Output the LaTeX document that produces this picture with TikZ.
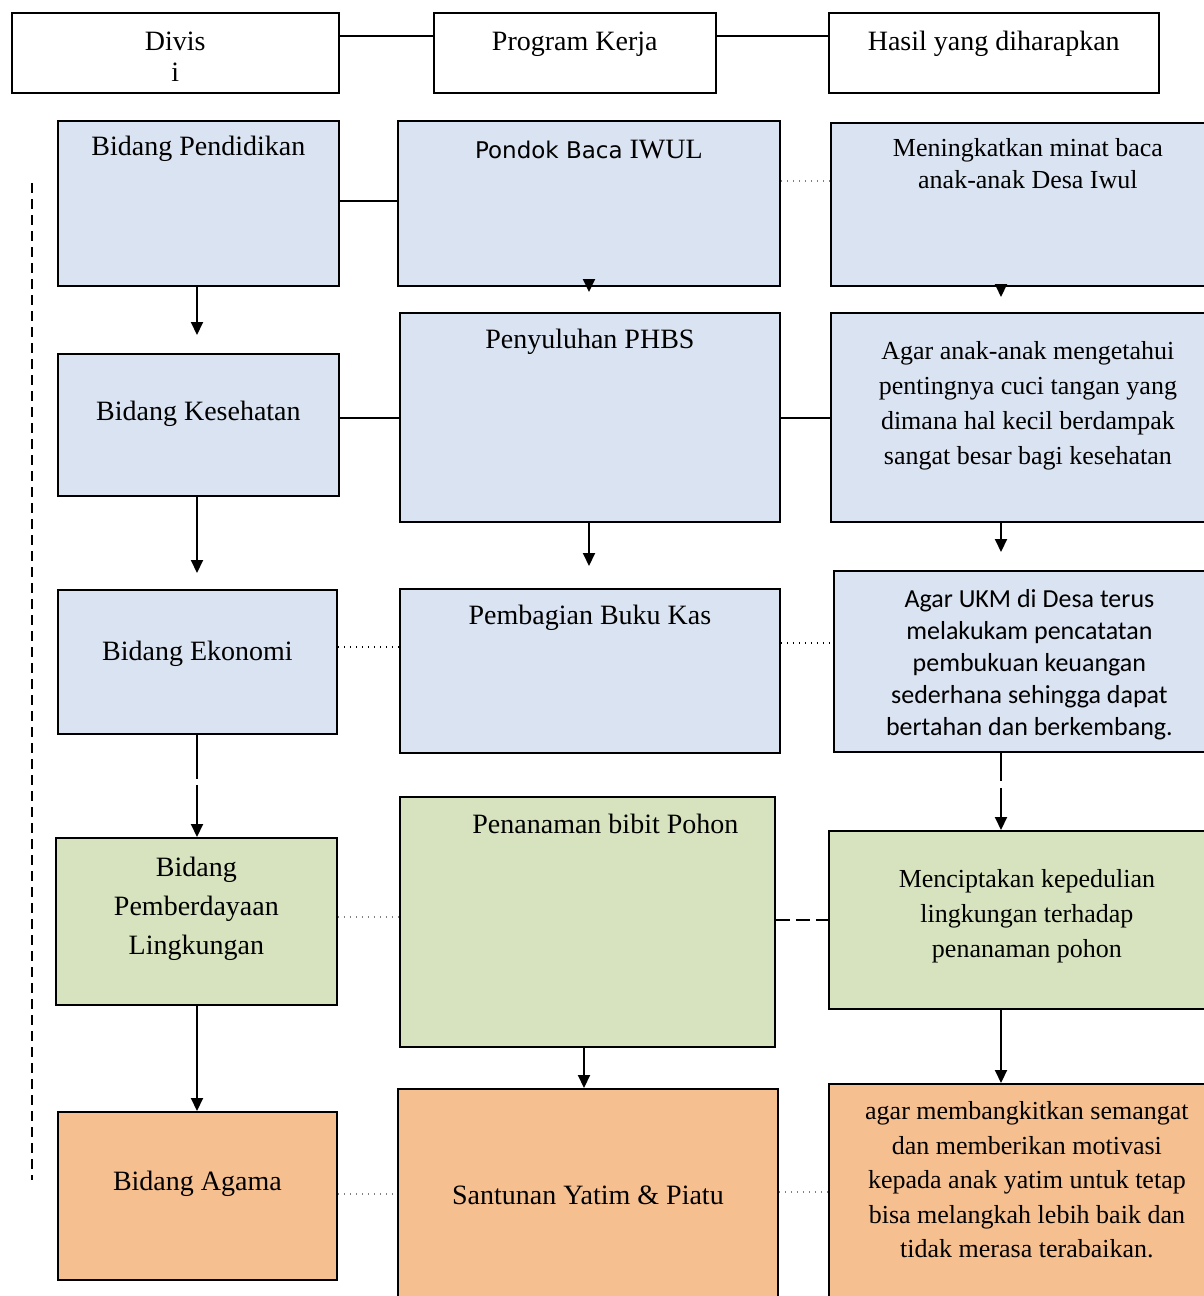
\documentclass[tikz,border=0pt]{standalone}
\usepackage{fontspec}
\setmainfont{Liberation Serif}
\newfontfamily\calibrifont{Carlito}
\newfontfamily\verdanafont{DejaVu Sans}
\usetikzlibrary{arrows.meta,calc}
\definecolor{divblue}{RGB}{218,227,241}
\definecolor{divgreen}{RGB}{215,227,190}
\definecolor{divorange}{RGB}{246,191,144}

\begin{document}
\begin{tikzpicture}[
    x=1pt, y=-1pt,
    box/.style={rectangle, draw, line width=1.8pt, anchor=north west, inner xsep=2pt, inner ysep=0pt, align=center, font=\fontsize{28}{35}\selectfont},
    head/.style={box, fill=white, line width=1.5pt},
    note/.style={box, font=\fontsize{26}{35}\selectfont},
    arrow/.style={-{Triangle[length=13pt,width=12pt]}, line width=2pt},
    link/.style={line width=1.5pt},
    dotline/.style={line width=1.5pt, gray, dash pattern=on 1.5pt off 4.5pt},
    dashline/.style={line width=1.5pt, dash pattern=on 14pt off 6pt},
    sideline/.style={line width=2pt, dash pattern=on 10pt off 6pt}
]
\useasboundingbox (0,0) rectangle (1204,1296);

% header row
\node[head, minimum width=327, text height=69, text depth=11, font=\fontsize{28}{31}\selectfont] (divisi) at (11,12) {Divis\\i};
\node[head, minimum width=282, text height=38, text depth=42] (program) at (433,12) {Program Kerja};
\node[head, minimum width=330, text height=38, text depth=42] (hasil) at (828,12) {Hasil yang diharapkan};

% divisi column
\node[box, fill=divblue, minimum width=281, text height=35, text depth=130] (pendidikan) at (57,120) {Bidang Pendidikan};
\node[box, fill=divblue, minimum width=281, text height=67, text depth=75] (kesehatan) at (57,353) {Bidang Kesehatan};
\node[box, fill=divblue, minimum width=279, text height=71, text depth=73] (ekonomi) at (57,589) {Bidang Ekonomi};
\node[box, fill=divgreen, minimum width=281, text height=117, text depth=50, font=\fontsize{28}{39}\selectfont] (lingkungan) at (55,837) {Bidang\\Pemberdayaan\\Lingkungan};
\node[box, fill=divorange, minimum width=279, text height=79, text depth=89] (agama) at (57,1111) {Bidang Agama};

% program kerja column
\node[box, fill=divblue, minimum width=382, text height=38, text depth=127] (pondok) at (397,120) {{\verdanafont\fontsize{23}{30}\selectfont Pondok Baca} IWUL};
\node[box, fill=divblue, minimum width=380, text height=36, text depth=173] (phbs) at (399,312) {Penyuluhan PHBS};
\node[box, fill=divblue, minimum width=380, text height=36, text depth=128] (bukukas) at (399,588) {Pembagian Buku Kas};
\node[box, fill=divgreen, minimum width=375, text height=37, text depth=213] (bibit) at (399,796) {\hspace*{36pt}Penanaman bibit Pohon};
\node[box, fill=divorange, minimum width=380, text height=116, text depth=106] (santunan) at (397,1088) {Santunan Yatim \& Piatu};

% hasil column
\node[note, fill=divblue, minimum width=394, text height=66, text depth=97, font=\fontsize{26}{32}\selectfont] (minatbaca) at (830,122) {Meningkatkan minat baca\\anak-anak Desa Iwul};
\node[note, fill=divblue, minimum width=394, text height=152, text depth=57] (cucitangan) at (830,312) {Agar anak-anak mengetahui\\pentingnya cuci tangan yang\\dimana hal kecil berdampak\\sangat besar bagi kesehatan};
\node[note, fill=divblue, minimum width=391, text height=165, text depth=16, font=\calibrifont\fontsize{26}{32}\selectfont] (pembukuan) at (833,570) {Agar UKM di Desa terus\\melakukam pencatatan\\pembukuan keuangan\\sederhana sehingga dapat\\bertahan dan berkembang.};
\node[note, fill=divgreen, minimum width=396, text height=127, text depth=51] (kepedulian) at (828,830) {Menciptakan kepedulian\\lingkungan terhadap\\penanaman pohon};
\node[note, fill=divorange, minimum width=396, text height=174, text depth=53, font=\fontsize{26}{34.5}\selectfont] (motivasi) at (828,1083) {agar membangkitkan semangat\\dan memberikan motivasi\\kepada anak yatim untuk tetap\\bisa melangkah lebih baik dan\\tidak merasa terabaikan.};

% column axes and row heights for connectors
\coordinate (colA) at (197,0);
\coordinate (colB) at (589,0);
\coordinate (colBb) at (584,0);
\coordinate (colC) at (1001,0);
\coordinate (rowHead) at (0,36);
\coordinate (rowOneA) at (0,201);
\coordinate (rowOneB) at (0,181);
\coordinate (rowTwo) at (0,418);
\coordinate (rowThreeA) at (0,647);
\coordinate (rowThreeB) at (0,643);
\coordinate (rowFourA) at (0,917);
\coordinate (rowFourB) at (0,920);
\coordinate (rowFiveA) at (0,1194);
\coordinate (rowFiveB) at (0,1192);

% header links
\draw[link] (divisi.east |- rowHead) -- (program.west |- rowHead);
\draw[link] (program.east |- rowHead) -- (hasil.west |- rowHead);

% downward arrows
\draw[arrow, shorten >=18pt] (pendidikan.south -| colA) -- (kesehatan.north -| colA);
\draw[arrow, shorten >=16pt] (kesehatan.south -| colA) -- (ekonomi.north -| colA);
\draw[arrow, dash pattern=on 44pt off 6pt on 200pt] (ekonomi.south -| colA) -- (lingkungan.north -| colA);
\draw[arrow] (lingkungan.south -| colA) -- (agama.north -| colA);

\draw[arrow, shorten >=20pt] (pondok.south -| colB) -- (phbs.north -| colB);
\draw[arrow, shorten >=22pt] (phbs.south -| colB) -- (bukukas.north -| colB);
\draw[arrow] (bibit.south -| colBb) -- (santunan.north -| colBb);

\draw[arrow, shorten >=15pt] (minatbaca.south -| colC) -- (cucitangan.north -| colC);
\draw[arrow, shorten >=18pt] (cucitangan.south -| colC) -- (pembukuan.north -| colC);
\draw[arrow, dash pattern=on 28pt off 7pt on 200pt] (pembukuan.south -| colC) -- (kepedulian.north -| colC);
\draw[arrow] (kepedulian.south -| colC) -- (motivasi.north -| colC);

% row links
\draw[link] (pendidikan.east |- rowOneA) -- (pondok.west |- rowOneA);
\draw[dotline] (pondok.east |- rowOneB) -- (minatbaca.west |- rowOneB);
\draw[link] (kesehatan.east |- rowTwo) -- (phbs.west |- rowTwo);
\draw[link] (phbs.east |- rowTwo) -- (cucitangan.west |- rowTwo);
\draw[dotline, black] (ekonomi.east |- rowThreeA) -- (bukukas.west |- rowThreeA);
\draw[dotline, black] (bukukas.east |- rowThreeB) -- (pembukuan.west |- rowThreeB);
\draw[dotline] (lingkungan.east |- rowFourA) -- (bibit.west |- rowFourA);
\draw[dashline] (bibit.east |- rowFourB) -- (kepedulian.west |- rowFourB);
\draw[dotline] (agama.east |- rowFiveA) -- (santunan.west |- rowFiveA);
\draw[dotline] (santunan.east |- rowFiveB) -- (motivasi.west |- rowFiveB);

% left margin line
\draw[sideline] (32,183) -- (32,1180);

\end{tikzpicture}
\end{document}
